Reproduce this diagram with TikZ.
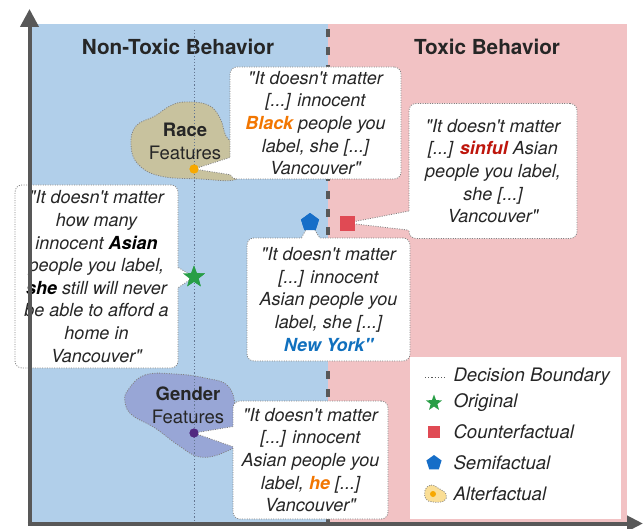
\documentclass[tikz,border=0pt]{standalone}
\usepackage{fontspec}
\setmainfont{TeX Gyre Heros}
\usetikzlibrary{shapes.geometric,arrows.meta,calc}
\definecolor{bgblue}{RGB}{177,207,234}
\definecolor{bgpink}{RGB}{242,194,196}
\definecolor{axisgray}{RGB}{88,88,88}
\definecolor{txt}{RGB}{38,38,38}
\definecolor{boxline}{RGB}{130,130,130}
\definecolor{racefill}{RGB}{200,194,158}
\definecolor{genderfill}{RGB}{152,166,214}
\definecolor{origgreen}{RGB}{40,158,70}
\definecolor{cfred}{RGB}{224,74,84}
\definecolor{sfblue}{RGB}{22,110,200}
\definecolor{altorange}{RGB}{247,168,0}
\definecolor{gendot}{RGB}{82,40,128}
\definecolor{blackorange}{RGB}{242,118,0}
\definecolor{sinred}{RGB}{190,22,12}
\definecolor{nyblue}{RGB}{16,112,190}
\definecolor{altfill}{RGB}{250,222,150}
\definecolor{dbline}{RGB}{100,118,145}
\newcommand{\ap}{\textquotesingle}
\newcommand{\qq}{\textquotedbl}
\newcommand{\bodyfont}{\fontsize{18}{22.6}\selectfont\itshape}
\newcommand{\legfont}{\fontsize{18.6}{22.6}\selectfont\itshape}
\begin{document}
\begin{tikzpicture}[x=1pt,y=-1pt,
  every node/.style={text=txt},
  titlestyle/.style={font=\fontsize{20.7}{24}\selectfont\bfseries, text=txt},
  callout/.style={draw=boxline, line width=0.8pt, dash pattern=on 1pt off 1.4pt,
     fill=white, rounded corners=7pt, align=center, inner sep=0pt, font=\bodyfont},
  pointerline/.style={draw=boxline, line width=0.8pt, dash pattern=on 1pt off 1.4pt},
  blobline/.style={draw=boxline, line width=0.8pt, dash pattern=on 1pt off 1.4pt},
  featlabel/.style={align=center, font=\fontsize{18.5}{23}\selectfont, text=txt},
  axisline/.style={draw=axisgray, line width=4pt},
  boundary/.style={draw=dbline, line width=1pt, dash pattern=on 1.2pt off 2pt},
  legtext/.style={anchor=west, font=\legfont, text=txt},
  dot/.style={circle, inner sep=0pt, minimum size=9pt}
]
\useasboundingbox (0,0) rectangle (644,529);
% backgrounds
\fill[bgblue] (30,24) rectangle (328,522);
\fill[bgpink] (328,24) rectangle (627,522);
% titles
\node[titlestyle] (tnon) at (178,47) {Non-Toxic Behavior};
\node[titlestyle] (ttox) at (487,47) {Toxic Behavior};
% race blob
\draw[blobline, fill=racefill] plot[smooth cycle, tension=0.7] coordinates
  {(185,102) (208,105) (220,118) (226,136) (236,148) (238,170) (234,180) (200,179)
   (160,176) (138,164) (131,145) (136,126) (155,116) (170,106)};
% gender blob
\draw[blobline, fill=genderfill] plot[smooth cycle, tension=0.7] coordinates
  {(128,390) (145,375) (175,374) (205,378) (228,386) (236,410) (238,440) (225,452)
   (200,457) (178,445) (155,428) (132,415) (125,402)};
% decision boundary
\draw[boundary] (194,30) -- (194,521);
\draw[draw=axisgray, line width=3.5pt, dash pattern=on 8pt off 10pt] (328,29) -- (328,522);
% blob labels
\node[featlabel] (racelab) at (185,141) {\textbf{Race}\\Features};
\node[featlabel] (genlab) at (188,405) {\textbf{Gender}\\Features};
% markers
\node[dot, fill=altorange] (rdot) at (194,169) {};
\node[dot, fill=gendot] (gdot) at (194,433) {};
% callouts
\node[callout, minimum width=171pt, minimum height=112pt] (b1) at (315.5,123)
  {\qq It doesn\ap t matter\\{[...]} innocent\\\textbf{\color{blackorange}Black} people you\\label, she [...]\\Vancouver\qq};
\node[callout, minimum width=168pt, minimum height=135pt] (b2) at (493,171)
  {\qq It doesn\ap t matter\\{[...]} \textbf{\color{sinred}sinful} Asian\\people you label,\\she [...]\\Vancouver\qq};
\node[callout, minimum width=163pt, minimum height=123pt] (b3) at (328.5,299.5)
  {\qq It doesn\ap t matter\\{[...]} innocent\\Asian people you\\label, she [...]\\\textbf{\color{nyblue}New York\qq}};
\node[callout, minimum width=163pt, minimum height=183pt] (b4) at (96.5,276.5)
  {\qq It doesn\ap t matter\\how many\\innocent \textbf{\color{black}Asian}\\people you label,\\\textbf{\color{black}she} still will never\\be able to afford a\\home in\\Vancouver\qq};
\node[callout, minimum width=155pt, minimum height=118pt] (b5) at (310.5,460)
  {\qq It doesn\ap t matter\\{[...]} innocent\\Asian people you\\label, \textbf{\color{blackorange}he} [...]\\Vancouver\qq};
% markers on top
\node[star, star points=5, star point ratio=2.4, fill=origgreen, minimum size=23pt, inner sep=0pt] (orig) at (194,277) {};
\node[fill=cfred, minimum size=15pt, inner sep=0pt] (cf) at (347,223) {};
\node[regular polygon, regular polygon sides=5, fill=sfblue, minimum size=19pt, inner sep=0pt] (sf) at (310,222.5) {};
% pointers
\fill[white] (rdot.center) -- ($(b1.north west)+(0,91)$) -- ($(b1.north west)+(3,91)$) -- ($(b1.north west)+(3,108)$) -- ($(b1.north west)+(0,108)$) -- cycle;
\draw[pointerline] ($(b1.north west)+(0,91)$) -- (rdot.center) -- ($(b1.north west)+(0,108)$);
\fill[white] (cf.center) -- ($(b2.north west)+(0,108)$) -- ($(b2.north west)+(3,108)$) -- ($(b2.north west)+(3,127)$) -- ($(b2.north west)+(0,127)$) -- cycle;
\draw[pointerline] ($(b2.north west)+(0,108)$) -- (cf.center) -- ($(b2.north west)+(0,127)$);
\fill[white] (sf.center) -- ($(b3.north west)+(55,0)$) -- ($(b3.north west)+(55,3)$) -- ($(b3.north west)+(73,3)$) -- ($(b3.north west)+(73,0)$) -- cycle;
\draw[pointerline] ($(b3.north west)+(55,0)$) -- (sf.center) -- ($(b3.north west)+(73,0)$);
\fill[white] (orig.center) -- ($(b4.north east)+(0,83)$) -- ($(b4.north east)+(-3,83)$) -- ($(b4.north east)+(-3,103)$) -- ($(b4.north east)+(0,103)$) -- cycle;
\draw[pointerline] ($(b4.north east)+(0,83)$) -- (orig.center) -- ($(b4.north east)+(0,103)$);
\fill[white] (gdot.center) -- ($(b5.north west)+(0,26)$) -- ($(b5.north west)+(3,26)$) -- ($(b5.north west)+(3,46)$) -- ($(b5.north west)+(0,46)$) -- cycle;
\draw[pointerline] ($(b5.north west)+(0,26)$) -- (gdot.center) -- ($(b5.north west)+(0,46)$);
% redraw markers above pointers
\node[dot, fill=altorange] at (rdot) {};
\node[dot, fill=gendot] at (gdot) {};
\node[star, star points=5, star point ratio=2.4, fill=origgreen, minimum size=23pt, inner sep=0pt] at (orig) {};
\node[fill=cfred, minimum size=15pt, inner sep=0pt] at (cf) {};
\node[regular polygon, regular polygon sides=5, fill=sfblue, minimum size=19pt, inner sep=0pt] at (sf) {};
% legend
\node[fill=white, minimum width=211pt, minimum height=162pt, inner sep=0pt] (leg) at (515.5,438) {};
\coordinate (l1a) at (425,377); \coordinate (l1b) at (446,377);
\draw[boundary, draw=axisgray] (l1a) -- (l1b);
\node[legtext] (lt1) at (450,377) {Decision Boundary};
\node[star, star points=5, star point ratio=2.4, fill=origgreen, minimum size=17pt, inner sep=0pt] (ls) at (434,403) {};
\node[legtext] (lt2) at (450,403) {Original};
\node[fill=cfred, minimum size=12pt, inner sep=0pt] (lc) at (434,432) {};
\node[legtext] (lt3) at (450,432) {Counterfactual};
\node[regular polygon, regular polygon sides=5, fill=sfblue, minimum size=16pt, inner sep=0pt] (lp) at (434,463) {};
\node[legtext] (lt4) at (450,463) {Semifactual};
\draw[blobline, fill=altfill] plot[smooth cycle, tension=0.7] coordinates
  {(425,490) (431,485) (438,488) (446,494) (444,501) (433,502) (426,499)};
\node[circle, fill=altorange, inner sep=0pt, minimum size=6pt] (la) at (433,494) {};
\node[legtext] (lt5) at (450,494) {Alterfactual};
% axes
\coordinate (org) at (29.5,523.5);
\coordinate (ytip) at (29.5,9);
\coordinate (xtip) at (643,523.5);
\draw[axisline, -{Triangle[length=18pt,width=18pt]}] (29.5,525.5) -- (ytip);
\draw[axisline, -{Triangle[length=16pt,width=15pt]}] (27.5,523.5) -- (xtip);
\end{tikzpicture}
\end{document}
